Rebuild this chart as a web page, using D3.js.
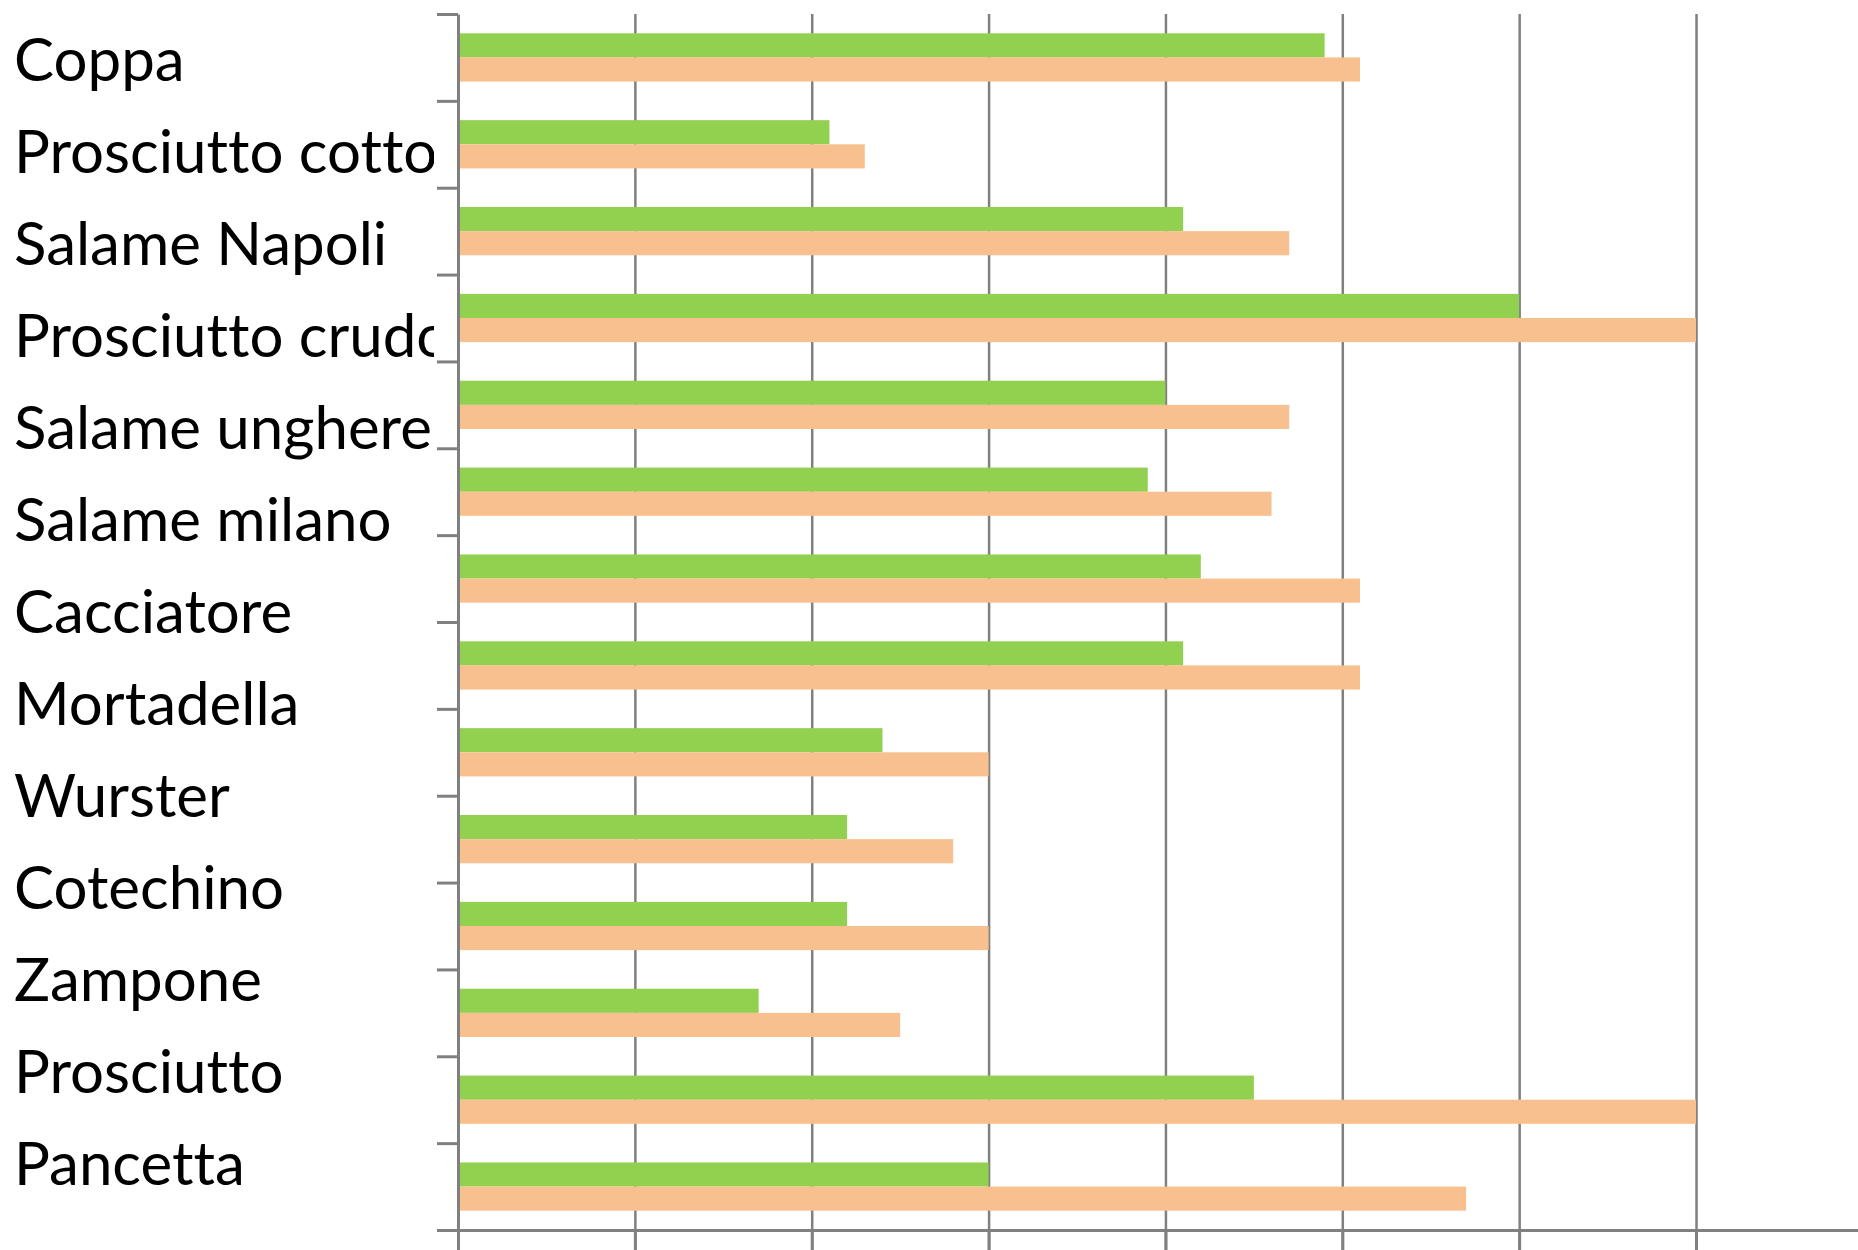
<!DOCTYPE html>
<html>
<head>
<meta charset="utf-8">
<script src="https://cdn.jsdelivr.net/npm/d3@7"></script>
<style>
  html, body { margin: 0; padding: 0; background: #ffffff; }
  svg { display: block; }
</style>
</head>
<body>
<svg id="chart" width="1858" height="1250"></svg>
<script>
// ---- data ----
const labels = ["Coppa", "Prosciutto cotto", "Salame Napoli", "Prosciutto crudo",
  "Salame ungherese", "Salame milano", "Cacciatore", "Mortadella", "Wurster",
  "Cotechino", "Zampone", "Prosciutto", "Pancetta"];
const greenValues  = [4.9, 2.1, 4.1, 6.0, 4.0, 3.9, 4.2, 4.1, 2.4, 2.2, 2.2, 1.7, 4.5, 3.0];
const orangeValues = [5.1, 2.3, 4.7, 7.0, 4.7, 4.6, 5.1, 5.1, 3.0, 2.8, 3.0, 2.5, 7.0, 5.7];
const seriesKeys = ["green", "orange"];
const seriesColors = ["#92D050", "#F9C08F"];
const xTicks = [0, 1, 2, 3, 4, 5, 6, 7, 8];

// ---- layout ----
const W = 1858, H = 1250;
const mLeft = 458, mTop = 14, mBottom = 1230;
const svg = d3.select("#chart");

const rows = d3.range(greenValues.length);
const x = d3.scaleLinear().domain([0, 8]).range([mLeft, mLeft + 8 * 176.86]);
const y = d3.scaleBand().domain(rows).range([mTop, mBottom]).padding(0);
const yInner = d3.scaleBand().domain(seriesKeys).range([0, y.bandwidth()]).paddingInner(0).paddingOuter(0.8);
const yTicks = d3.scaleLinear().domain([0, rows.length]).range([mTop, mBottom]);
const color = d3.scaleOrdinal().domain(seriesKeys).range(seriesColors);

const axisColor = "#808080";

// gridlines
const grid = svg.append("g").attr("transform", `translate(0,${mTop})`)
  .call(d3.axisTop(x).tickValues(xTicks.slice(1)).tickFormat("").tickSizeInner(-(mBottom - mTop + 30)).tickSizeOuter(0));
grid.select(".domain").remove();
grid.selectAll(".tick line").attr("stroke", axisColor).attr("stroke-width", 2.5);

// bars
const seriesData = [greenValues, orangeValues];
const groups = svg.append("g").selectAll("g").data(rows).join("g")
  .attr("transform", d => `translate(0,${y(d)})`);
groups.selectAll("rect")
  .data(i => seriesKeys.map((k, s) => ({ key: k, value: seriesData[s][i] })))
  .join("rect")
  .attr("x", x(0))
  .attr("y", d => yInner(d.key))
  .attr("width", d => x(d.value) - x(0))
  .attr("height", yInner.bandwidth())
  .attr("fill", d => color(d.key));

// y axis
const yAxis = svg.append("g").attr("transform", `translate(${mLeft},0)`)
  .call(d3.axisLeft(yTicks).tickValues(d3.range(rows.length + 1)).tickFormat("").tickSizeInner(21).tickSizeOuter(0));
yAxis.selectAll("path, line").attr("stroke", axisColor).attr("stroke-width", 3);

// x axis
const xAxis = svg.append("g").attr("transform", `translate(0,${mBottom})`)
  .call(d3.axisBottom(x).tickValues(xTicks).tickFormat("").tickSizeInner(30).tickSizeOuter(0));
xAxis.selectAll("path, line").attr("stroke", axisColor).attr("stroke-width", 3);

// category labels (overlay text, clipped)
svg.append("clipPath").attr("id", "labclip")
  .append("rect").attr("x", 0).attr("y", 0).attr("width", 434).attr("height", H);
const labelY = d3.scalePoint().domain(labels).range([80.6, 1184.6]);
svg.append("g").attr("clip-path", "url(#labclip)")
  .selectAll("text").data(labels).join("text")
  .attr("x", 14)
  .attr("y", d => labelY(d))
  .attr("font-family", "Lato, 'Open Sans', sans-serif")
  .attr("font-size", 60)
  .style("font-variant-ligatures", "none")
  .attr("fill", "#000")
  .text(d => d);
</script>
</body>
</html>
